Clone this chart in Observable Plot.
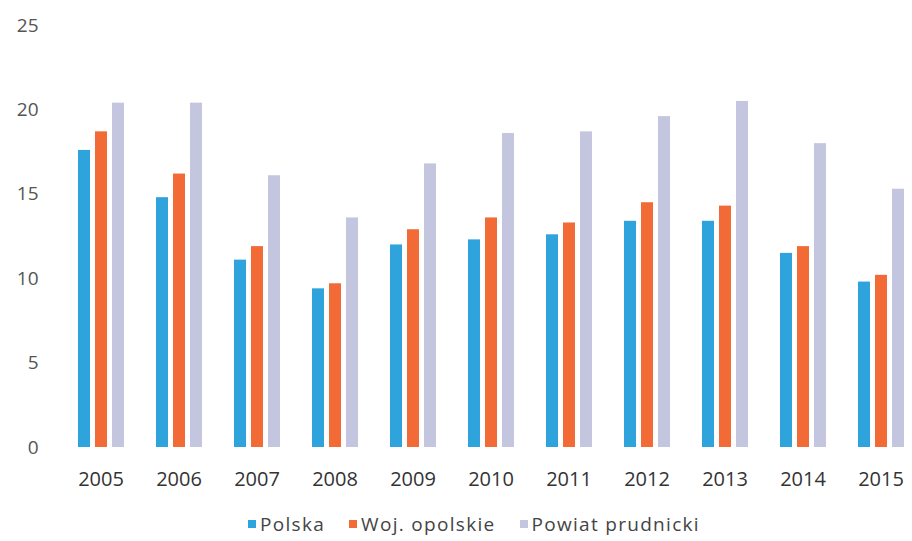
<!DOCTYPE html>
<html>
<head>
<meta charset="utf-8">
<script src="https://cdn.jsdelivr.net/npm/d3@7"></script>
<script src="https://cdn.jsdelivr.net/npm/@observablehq/plot@0.6"></script>
<style>
  body { margin: 0; background: #fff; font-family: "Open Sans", sans-serif; }
  #legend { display: flex; justify-content: center; margin-top: 4px; padding-left: 36px; font-size: 19px; letter-spacing: 1.3px; color: #444; }
  #legend .item { display: flex; align-items: center; margin: 0 12px; }
  #legend .sw { width: 8px; height: 8px; margin-right: 4px; }
</style>
</head>
<body>
<div id="chart"></div>
<div id="legend"></div>
<script>
const years = ["2005","2006","2007","2008","2009","2010","2011","2012","2013","2014","2015"];
const seriesNames = ["Polska", "Woj. opolskie", "Powiat prudnicki"];
const polska = [17.6, 14.8, 11.1, 9.4, 12.0, 12.3, 12.6, 13.4, 13.4, 11.5, 9.8];
const opolskie = [18.7, 16.2, 11.9, 9.7, 12.9, 13.6, 13.3, 14.5, 14.3, 11.9, 10.2];
const prudnicki = [20.4, 20.4, 16.1, 13.6, 16.8, 18.6, 18.7, 19.6, 20.5, 18.0, 15.3];
const colors = ["#2ea3dc", "#f26a35", "#c4c5df"];
const yTicks = [0, 5, 10, 15, 20, 25];

const values = [polska, opolskie, prudnicki];
const data = [];
years.forEach((yr, i) => {
  seriesNames.forEach((s, j) => data.push({year: yr, series: s, value: values[j][i]}));
});

const chart = Plot.plot({
  width: 912,
  height: 507,
  marginTop: 25,
  marginBottom: 60,
  marginLeft: 69,
  marginRight: 0,
  style: {fontFamily: "Open Sans, sans-serif", background: "#fff"},
  fx: {domain: years, padding: 0.264, paddingOuter: 0, label: null, axis: null},
  x: {domain: seriesNames, padding: 0.3, axis: null},
  y: {domain: [0, 25], ticks: yTicks, label: null, axis: null},
  color: {domain: seriesNames, range: colors},
  marks: [
    Plot.barY(data, {fx: "year", x: "series", y: "value", fill: "series"}),
    Plot.axisFx({anchor: "bottom", tickSize: 0, tickPadding: 24, fontSize: 20, fill: "#333", label: null}),
    Plot.axisY({ticks: yTicks, tickSize: 0, tickPadding: 34, fontSize: 19, fill: "#555", label: null})
  ]
});
document.getElementById("chart").appendChild(chart);

const legend = document.getElementById("legend");
seriesNames.forEach((s, j) => {
  const item = document.createElement("div");
  item.className = "item";
  const sw = document.createElement("span");
  sw.className = "sw";
  sw.style.background = colors[j];
  const t = document.createElement("span");
  t.textContent = s;
  item.appendChild(sw);
  item.appendChild(t);
  legend.appendChild(item);
});
</script>
</body>
</html>
